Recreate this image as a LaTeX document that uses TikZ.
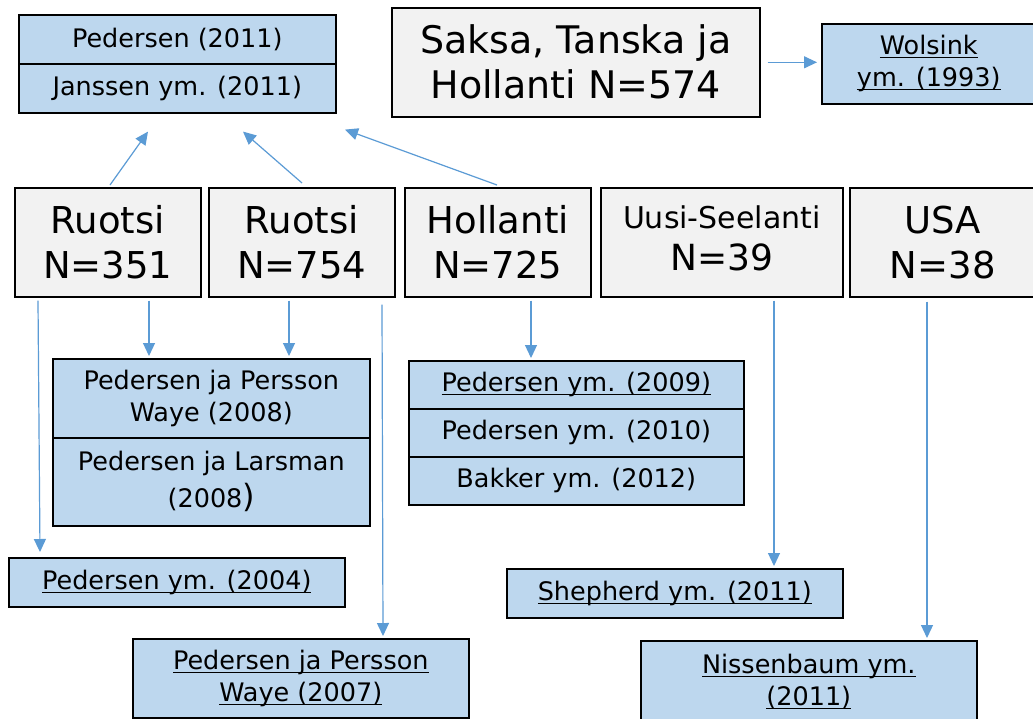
\documentclass[tikz,border=0pt]{standalone}
\usepackage{fontspec}
\setmainfont{DejaVu Sans}
\usetikzlibrary{arrows.meta,calc}
\definecolor{bluefill}{HTML}{BDD7EE}
\definecolor{grayfill}{HTML}{F2F2F2}
\definecolor{arrowblue}{HTML}{5B9BD5}
\newcommand{\ul}[1]{\setbox0\hbox{#1}\rlap{\rule[-3.5pt]{\wd0}{1.1pt}}\box0}
\tikzset{
 base/.style={draw=black, line width=1.6pt, inner sep=0pt, anchor=north west, align=center},
 bluebox/.style={base, fill=bluefill, font=\fontsize{25.5}{32}\selectfont},
 graybox/.style={base, fill=grayfill, font=\fontsize{37}{45}\selectfont},
 arr/.style={draw=arrowblue, line width=1.2pt, -{Triangle[length=13pt,width=12pt]}}
}
\begin{document}
\begin{tikzpicture}[x=1pt,y=-1pt]
\fill[white] (0,0) rectangle (1033,718);
\useasboundingbox (0,0) rectangle (1033,718);
% top row
\node[bluebox, minimum width=317pt, minimum height=49pt] (ped11) at (18,14) {Pedersen (2011)};
\node[bluebox, minimum width=317pt, minimum height=49pt] (jan11) at (18,63) {Janssen ym. (2011)};
\node[graybox, font=\fontsize{38}{45}\selectfont, minimum width=368pt, minimum height=109pt] (saksa) at (391,7) {Saksa, Tanska ja\\Hollanti N=574};
\node[bluebox, minimum width=214pt, minimum height=80pt] (wol) at (821,23) {\ul{Wolsink}\\\ul{ym. (1993)}};
% country row
\node[graybox, minimum width=186pt, minimum height=109pt] (r1) at (14,187) {Ruotsi\\N=351};
\node[graybox, minimum width=186pt, minimum height=109pt] (r2) at (208,187) {Ruotsi\\N=754};
\node[graybox, minimum width=186pt, minimum height=109pt] (hol) at (404,187) {Hollanti\\N=725};
\node[graybox, font=\fontsize{36}{42}\selectfont, minimum width=242pt, minimum height=109pt, text depth=8pt] (nz) at (600,187) {{\fontsize{30}{42}\selectfont Uusi-Seelanti}\\N=39};
\node[graybox, minimum width=186pt, minimum height=109pt] (usa) at (849,187) {USA\\N=38};
% studies
\node[bluebox, minimum width=317pt, minimum height=79pt] (pp08) at (52,358) {Pedersen ja Persson\\Waye (2008)};
\node[bluebox, minimum width=317pt, minimum height=88pt] (pl08) at (52,437) {Pedersen ja Larsman\\[5pt](2008{\fontsize{32}{32}\selectfont )}};
\node[bluebox, minimum width=336pt, minimum height=49pt] (p04) at (8,557) {\ul{Pedersen ym. (2004)}};
\node[bluebox, minimum width=336pt, minimum height=79pt] (pp07) at (132,638) {\ul{Pedersen ja Persson}\\\ul{Waye (2007)}};
\node[bluebox, minimum width=335pt, minimum height=48pt] (p09) at (408,360) {\ul{Pedersen ym. (2009)}};
\node[bluebox, minimum width=335pt, minimum height=48pt] (p10) at (408,408) {Pedersen ym. (2010)};
\node[bluebox, minimum width=335pt, minimum height=48pt] (bak) at (408,456) {Bakker ym. (2012)};
\node[bluebox, minimum width=336pt, minimum height=49pt] (shep) at (506,568) {\ul{Shepherd ym. (2011)}};
\node[bluebox, minimum width=336pt, minimum height=82pt] (nis) at (640,640) {\ul{Nissenbaum ym.}\\\ul{(2011)}};
% connectors
\draw[arr] ($(r1.north west)+(96,-2)$) -- ($(jan11.south west)+(130,18)$);
\draw[arr] ($(r2.north west)+(94,-4)$) -- ($(jan11.south west)+(225,18)$);
\draw[arr] ($(hol.north west)+(93,-2)$) -- ($(jan11.south west)+(327,16)$);
\draw[arr] ($(saksa.east)+(7,0)$) -- ($(saksa.east -| wol.west)+(-4,0)$);
\draw[arr] ($(r1.south west)+(24,3)$) -- ($(p04.north west)+(32,-5)$);
\draw[arr] ($(r1.south west)+(135,3)$) -- ($(pp08.north west)+(97,-2)$);
\draw[arr] ($(r2.south west)+(81,3)$) -- ($(pp08.north west)+(237,-2)$);
\draw[arr] ($(r2.south west)+(174,7)$) -- ($(pp07.north west)+(251,-2)$);
\draw[arr] ($(hol.south west)+(127,3)$) -- ($(p09.north west)+(123,-2)$);
\draw[arr] ($(nz.south west)+(174,3)$) -- ($(shep.north west)+(268,-2)$);
\draw[arr] ($(usa.south west)+(78,4)$) -- ($(nis.north west)+(287,-2)$);
\end{tikzpicture}
\end{document}
